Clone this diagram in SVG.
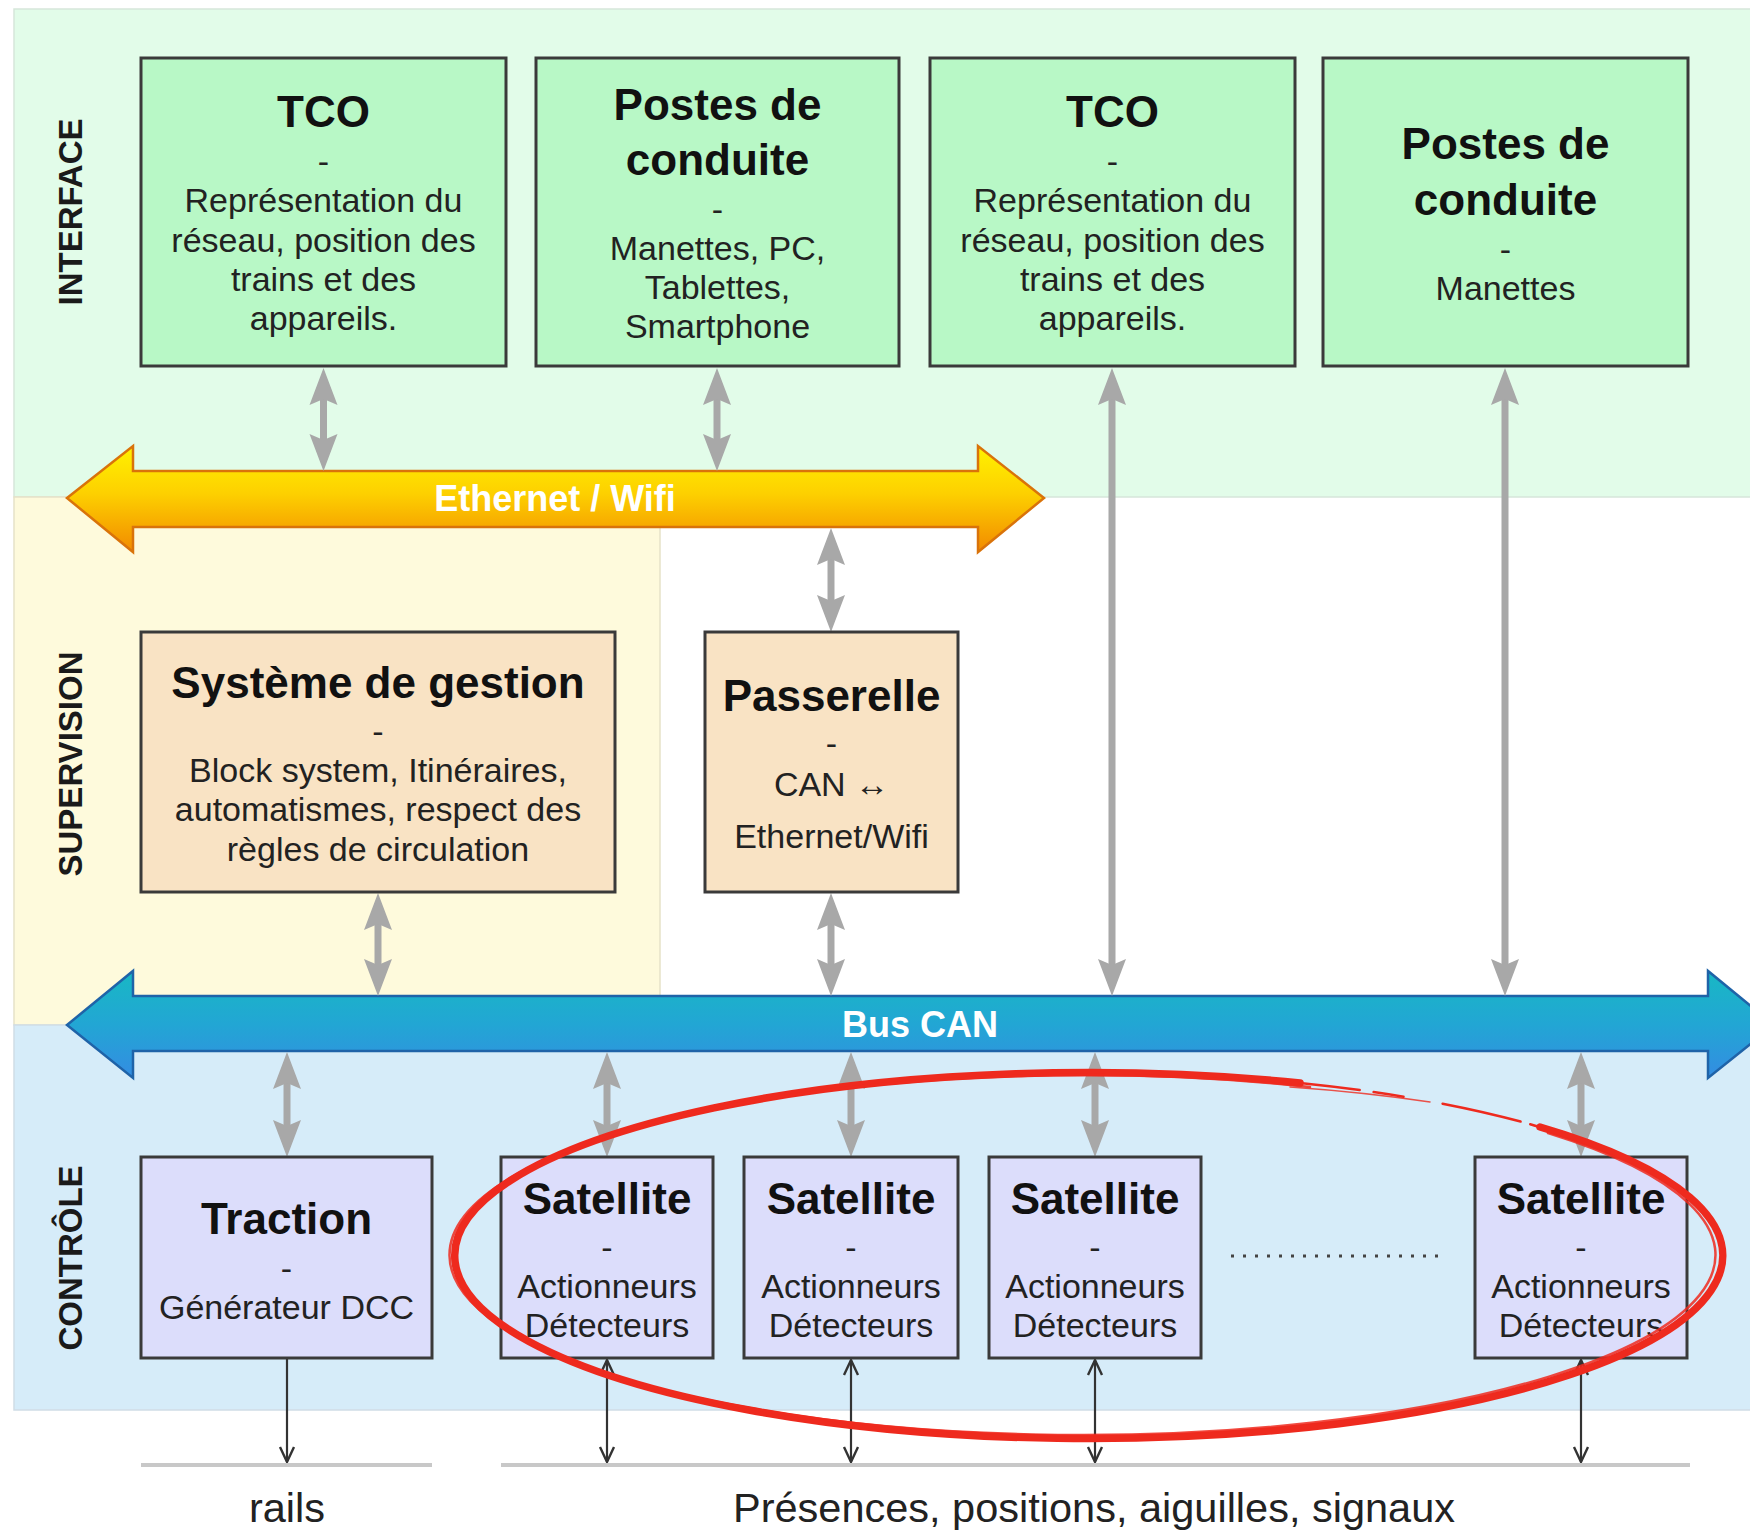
<svg xmlns="http://www.w3.org/2000/svg" width="1750" height="1533" viewBox="0 0 1750 1533">
<style>
text{font-family:"Liberation Sans",Arial,Helvetica,sans-serif;text-anchor:middle}
.t{font-size:44px;font-weight:bold;fill:#111}
.b{font-size:34px;fill:#222}
.side{font-size:33px;font-weight:bold;fill:#1a1a1a}
.bus{font-size:36px;font-weight:bold;fill:#fff}
.foot{font-size:41.5px;fill:#222}
.gn{fill:#B8F8C6;stroke:#3a3a3a;stroke-width:3}
.or{fill:#F9E3C4;stroke:#3a3a3a;stroke-width:3}
.pu{fill:#DCDDFB;stroke:#3a3a3a;stroke-width:3}
.ga{stroke:#A8A8A8;stroke-width:7;fill:none;marker-start:url(#gh);marker-end:url(#gh)}
.ka{stroke:#333;stroke-width:2.2;fill:none}
.gl{stroke:#C8C8C8;stroke-width:4}
</style>
<defs>
<marker id="gh" markerUnits="userSpaceOnUse" viewBox="-20 -16 44 32" refX="0" refY="0" markerWidth="44" markerHeight="32" orient="auto-start-reverse" overflow="visible">
<path d="M20,0 L-17,-14 L-11,0 L-17,14 Z" fill="#A8A8A8"/>
</marker>
<marker id="kh" markerUnits="userSpaceOnUse" viewBox="-18 -9 20 18" refX="0" refY="0" markerWidth="20" markerHeight="18" orient="auto-start-reverse" overflow="visible">
<path d="M-15,-7 L0,0 L-15,7" fill="none" stroke="#333" stroke-width="2.4"/>
</marker>
<linearGradient id="eth" gradientUnits="userSpaceOnUse" x1="0" y1="446" x2="0" y2="552">
<stop offset="0" stop-color="#FFF200"/>
<stop offset="0.45" stop-color="#FDD000"/>
<stop offset="1" stop-color="#F28A00"/>
</linearGradient>
<linearGradient id="can" gradientUnits="userSpaceOnUse" x1="0" y1="971" x2="0" y2="1078">
<stop offset="0" stop-color="#18B8C4"/>
<stop offset="0.5" stop-color="#22A6D4"/>
<stop offset="1" stop-color="#348CE2"/>
</linearGradient>
</defs>

<g id="bands">
<rect x="14" y="9" width="1740" height="488" fill="#E2FCE9" stroke="#D6E6DA" stroke-width="1.5"/>
<rect x="14" y="497" width="646" height="528" fill="#FEFADC" stroke="#E6E2C8" stroke-width="1.5"/>
<rect x="14" y="1025" width="1740" height="385" fill="#D6ECF9" stroke="#D0DDE6" stroke-width="1.5"/>
<text class="side" transform="translate(82,212) rotate(-90)">INTERFACE</text>
<text class="side" transform="translate(82,764) rotate(-90)">SUPERVISION</text>
<text class="side" transform="translate(82,1258) rotate(-90)">CONTRÔLE</text>
</g>

<g id="ethernet-wifi">
<path d="M67,498 L133,446 L133,471 L978,471 L978,446 L1044,498 L978,552 L978,527 L133,527 L133,552 Z" fill="url(#eth)" stroke="#D9730A" stroke-width="2.5"/>
<text class="bus" x="555" y="511">Ethernet / Wifi</text>
</g>

<g id="bus-can">
<path d="M67,1025 L133,971 L133,996 L1708,996 L1708,971 L1774,1025 L1708,1078 L1708,1051 L133,1051 L133,1078 Z" fill="url(#can)" stroke="#1F63A8" stroke-width="2.5"/>
<text class="bus" x="920" y="1037">Bus CAN</text>
</g>

<g id="connectors">
<line class="ga" x1="323.5" y1="388" x2="323.5" y2="451"/>
<line class="ga" x1="717" y1="388" x2="717" y2="451"/>
<line class="ga" x1="831" y1="548" x2="831" y2="612"/>
<line class="ga" x1="1112" y1="388" x2="1112" y2="976"/>
<line class="ga" x1="1505" y1="388" x2="1505" y2="976"/>
<line class="ga" x1="378" y1="913" x2="378" y2="976"/>
<line class="ga" x1="831" y1="913" x2="831" y2="976"/>
<line class="ga" x1="287" y1="1072" x2="287" y2="1137"/>
<line class="ga" x1="607" y1="1072" x2="607" y2="1137"/>
<line class="ga" x1="851" y1="1072" x2="851" y2="1137"/>
<line class="ga" x1="1095" y1="1072" x2="1095" y2="1137"/>
<line class="ga" x1="1581" y1="1072" x2="1581" y2="1137"/>
<line class="ka" x1="287" y1="1358" x2="287" y2="1462" marker-end="url(#kh)"/>
<line class="ka" x1="607" y1="1360" x2="607" y2="1462" marker-start="url(#kh)" marker-end="url(#kh)"/>
<line class="ka" x1="851" y1="1360" x2="851" y2="1462" marker-start="url(#kh)" marker-end="url(#kh)"/>
<line class="ka" x1="1095" y1="1360" x2="1095" y2="1462" marker-start="url(#kh)" marker-end="url(#kh)"/>
<line class="ka" x1="1581" y1="1360" x2="1581" y2="1462" marker-start="url(#kh)" marker-end="url(#kh)"/>
<line x1="1231" y1="1256" x2="1446" y2="1256" stroke="#444" stroke-width="3" stroke-dasharray="3 9"/>
</g>

<g id="tco1">
<rect class="gn" x="141" y="58" width="365" height="308"/>
<text class="t" x="323.5" y="127">TCO</text>
<text class="b" x="323.5" y="173">-</text>
<text class="b" x="323.5" y="212">Représentation du</text>
<text class="b" x="323.5" y="252">réseau, position des</text>
<text class="b" x="323.5" y="291">trains et des</text>
<text class="b" x="323.5" y="330">appareils.</text>
</g>
<g id="postes1">
<rect class="gn" x="536" y="58" width="363" height="308"/>
<text class="t" x="717.5" y="120">Postes de</text>
<text class="t" x="717.5" y="175">conduite</text>
<text class="b" x="717.5" y="221">-</text>
<text class="b" x="717.5" y="260">Manettes, PC,</text>
<text class="b" x="717.5" y="299">Tablettes,</text>
<text class="b" x="717.5" y="338">Smartphone</text>
</g>
<g id="tco2">
<rect class="gn" x="930" y="58" width="365" height="308"/>
<text class="t" x="1112.5" y="127">TCO</text>
<text class="b" x="1112.5" y="173">-</text>
<text class="b" x="1112.5" y="212">Représentation du</text>
<text class="b" x="1112.5" y="252">réseau, position des</text>
<text class="b" x="1112.5" y="291">trains et des</text>
<text class="b" x="1112.5" y="330">appareils.</text>
</g>
<g id="postes2">
<rect class="gn" x="1323" y="58" width="365" height="308"/>
<text class="t" x="1505.5" y="159">Postes de</text>
<text class="t" x="1505.5" y="215">conduite</text>
<text class="b" x="1505.5" y="261">-</text>
<text class="b" x="1505.5" y="300">Manettes</text>
</g>

<g id="systeme-gestion">
<rect class="or" x="141" y="632" width="474" height="260"/>
<text class="t" x="378" y="698">Système de gestion</text>
<text class="b" x="378" y="743">-</text>
<text class="b" x="378" y="782">Block system, Itinéraires,</text>
<text class="b" x="378" y="821">automatismes, respect des</text>
<text class="b" x="378" y="861">règles de circulation</text>
</g>
<g id="passerelle">
<rect class="or" x="705" y="632" width="253" height="260"/>
<text class="t" x="831.5" y="711">Passerelle</text>
<text class="b" x="831.5" y="755">-</text>
<text class="b" x="831.5" y="796">CAN ↔</text>
<text class="b" x="831.5" y="848">Ethernet/Wifi</text>
</g>

<g id="traction">
<rect class="pu" x="141" y="1157" width="291" height="201"/>
<text class="t" x="286.5" y="1234">Traction</text>
<text class="b" x="286.5" y="1280">-</text>
<text class="b" x="286.5" y="1319">Générateur DCC</text>
</g>
<g id="satellite1">
<rect class="pu" x="501" y="1157" width="212" height="201"/>
<text class="t" x="607" y="1214">Satellite</text>
<text class="b" x="607" y="1259">-</text>
<text class="b" x="607" y="1298">Actionneurs</text>
<text class="b" x="607" y="1337">Détecteurs</text>
</g>
<g id="satellite2">
<rect class="pu" x="744" y="1157" width="214" height="201"/>
<text class="t" x="851" y="1214">Satellite</text>
<text class="b" x="851" y="1259">-</text>
<text class="b" x="851" y="1298">Actionneurs</text>
<text class="b" x="851" y="1337">Détecteurs</text>
</g>
<g id="satellite3">
<rect class="pu" x="989" y="1157" width="212" height="201"/>
<text class="t" x="1095" y="1214">Satellite</text>
<text class="b" x="1095" y="1259">-</text>
<text class="b" x="1095" y="1298">Actionneurs</text>
<text class="b" x="1095" y="1337">Détecteurs</text>
</g>
<g id="satellite4">
<rect class="pu" x="1475" y="1157" width="212" height="201"/>
<text class="t" x="1581" y="1214">Satellite</text>
<text class="b" x="1581" y="1259">-</text>
<text class="b" x="1581" y="1298">Actionneurs</text>
<text class="b" x="1581" y="1337">Détecteurs</text>
</g>

<g id="ground">
<line class="gl" x1="141" y1="1465" x2="432" y2="1465"/>
<line class="gl" x1="501" y1="1465" x2="1690" y2="1465"/>
<text class="foot" x="287" y="1522">rails</text>
<text class="foot" x="1094" y="1522">Présences, positions, aiguilles, signaux</text>
</g>

<g id="red-ellipse" fill="none" stroke="#EE2A1E" stroke-linecap="round">
<path d="M1540,1127 A634 183 0 1 1 1300,1083" stroke-width="7.5"/>
<path d="M1548,1133 A633 180 0 1 1 1310,1087" stroke-width="2.5" opacity="0.85"/>
<path d="M1300,1083 A634 183 0 0 1 1540,1127" stroke-width="2.5" stroke-dasharray="60 14 30 40 80 10"/>
<path d="M1290,1087 A630 181 0 0 1 1430,1102" stroke-width="1.5" opacity="0.8"/>
</g>
</svg>
